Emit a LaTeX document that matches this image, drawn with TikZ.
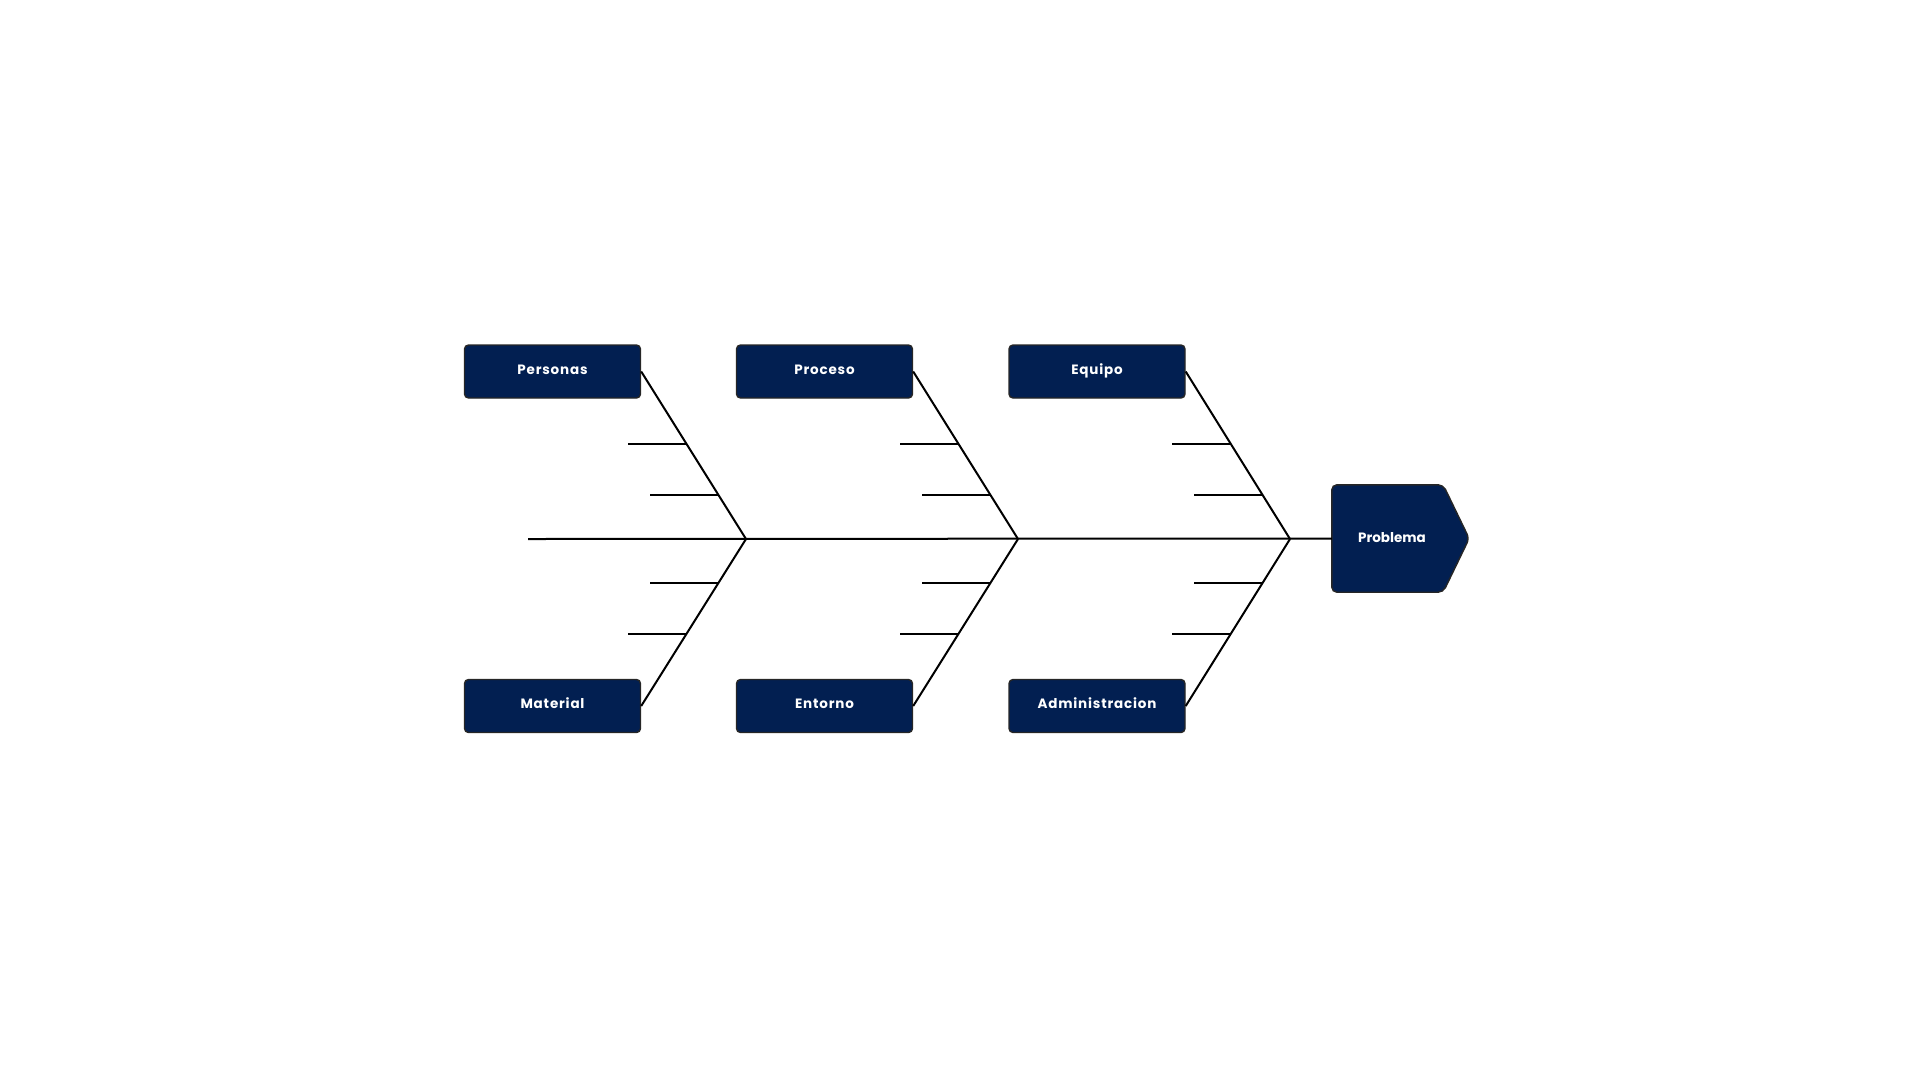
\documentclass[tikz,border=0pt]{standalone}
\usepackage{fontspec}
\newfontfamily\popfont{Poppins}[LetterSpace=6]
\newfontfamily\popplain{Poppins}
\usetikzlibrary{calc}
\definecolor{navy}{RGB}{2,31,81}
\tikzset{
  catbox/.style={draw=black!85, line width=1.4pt, fill=navy, rounded corners=4pt,
    minimum width=176pt, minimum height=53pt, inner sep=0pt,
    text height=10pt, text depth=4.4pt,
    text=white, font=\popfont\bfseries\fontsize{13.5pt}{16pt}\selectfont},
  bone/.style={line width=2pt, black, line cap=butt},
  rib/.style={line width=2pt, black}
}
\begin{document}
\begin{tikzpicture}[x=1pt,y=-1pt]
\useasboundingbox (0,0) rectangle (1920,1080);
% category boxes
\node[catbox] (per) at (552.5,371.5) {Personas};
\node[catbox] (pro) at (824.5,371.5) {Proceso};
\node[catbox] (equ) at (1097,371.5) {Equipo};
\node[catbox] (mat) at (552.5,706) {Material};
\node[catbox] (ent) at (824.5,706) {Entorno};
\node[catbox] (adm) at (1097,706) {Administracion};
% vertices
\coordinate (v1) at (746,539);
\coordinate (v2) at (1018,539);
\coordinate (v3) at (1290,539);
\coordinate (tail) at (528,539);
% problem head
\path (1387.5,538.5) node[inner sep=0pt, minimum width=111pt, minimum height=107pt] (prob) {};
\draw[draw=black!85, line width=1.4pt, fill=navy, rounded corners=5pt]
  (prob.north west) -- (prob.north east) -- ($(prob.east)+(26,0)$)
  -- (prob.south east) -- (prob.south west) -- cycle;
\node[inner sep=0pt, text=white, text height=10pt, text depth=0pt,
  font=\popplain\bfseries\fontsize{13.5pt}{16pt}\selectfont] (probtext) at (1392,537.5) {Problema};
% spine
\draw[bone] (tail) -- (prob.west);
% diagonals
\foreach \b/\v in {per/v1,pro/v2,equ/v3,mat/v1,ent/v2,adm/v3}{
  \draw[bone] (\b.east) -- (\v);
}
% ribs
\foreach \t/\v in {per/v1,pro/v2,equ/v3}{
  \coordinate (\t r1) at ($(\t.east)!0.433!(\v)$);
  \coordinate (\t r2) at ($(\t.east)!0.737!(\v)$);
  \coordinate (\t l1) at ($(\v)+(-118,-95)$);
  \coordinate (\t l2) at ($(\v)+(-96,-44)$);
  \draw[rib] (\t l1) -- (\t l1 -| \t r1);
  \draw[rib] (\t l2) -- (\t l2 -| \t r2);
}
\foreach \t/\v in {mat/v1,ent/v2,adm/v3}{
  \coordinate (\t r1) at ($(\v)!0.263!(\t.east)$);
  \coordinate (\t r2) at ($(\v)!0.569!(\t.east)$);
  \coordinate (\t l1) at ($(\v)+(-96,44)$);
  \coordinate (\t l2) at ($(\v)+(-118,95)$);
  \draw[rib] (\t l1) -- (\t l1 -| \t r1);
  \draw[rib] (\t l2) -- (\t l2 -| \t r2);
}
\end{tikzpicture}
\end{document}
